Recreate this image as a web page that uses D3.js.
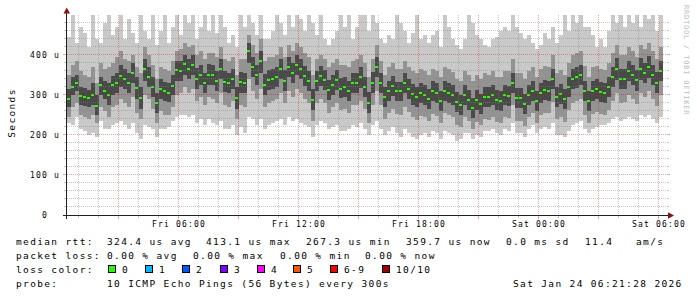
<!DOCTYPE html>
<html>
<head>
<meta charset="utf-8">
<script src="https://cdn.jsdelivr.net/npm/d3@7"></script>
<style>
  html, body { margin: 0; padding: 0; background: #fff; }
  svg { display: block; }
  text { font-family: "DejaVu Sans Mono", monospace; white-space: pre; }
</style>
</head>
<body>
<script>
// smokeping style latency graph, one column every 12 minutes (values in us)
var startTime = new Date(2026, 0, 23, 0, 27);
var endTime = new Date(2026, 0, 24, 6, 27);
var stepMinutes = 12;

var rttMed = [290,320,331,298,294,292,300,273,324,311, 300,325,329,348,340,330,355,317,292,365,
  345,320,279,315,309,306,323,362,360,377, 365,376,340,350,329,350,350,336,365,333,
  329,340,292,332,330,409,370,351,385,326, 337,340,345,365,336,369,354,375,365,348,
  336,288,335,347,337,312,325,337,316,319, 310,330,330,344,320,281,330,370,330,295,
  310,322,309,309,329,315,302,295,305,301, 290,309,304,286,310,306,300,282,275,300,
  288,268,288,278,296,294,300,288,285,300, 298,330,292,292,278,300,311,285,305,312,
  310,340,296,302,290,320,340,344,350,310, 285,310,315,308,306,320,345,365,340,340,
  360,350,337,365,355,370,350,331,360];
var rttMax = [445,500,430,470,455,420,500,440,430,480, 500,450,470,500,440,490,455,430,500,460,
  440,500,425,460,500,430,470,500,450,500, 480,500,440,470,500,460,500,455,500,470,
  430,450,420,500,470,500,480,450,500,440, 440,460,500,480,450,500,470,500,490,460,
  500,480,450,500,440,425,440,460,500,470, 500,440,470,500,500,460,500,480,440,430,
  450,440,500,480,460,430,455,500,440,450, 430,450,460,420,500,470,440,425,415,440,
  500,480,450,440,425,420,440,445,460,470, 460,500,470,455,440,450,430,415,425,455,
  440,470,430,450,500,460,500,480,500,470, 470,450,420,440,420,460,500,480,500,470,
  500,480,500,470,500,490,500,460,500];
var rttHi2 = [350,375,385,360,350,345,370,330,380,365, 370,380,395,410,390,385,400,370,355,420,
  400,375,340,370,365,360,385,410,415,430, 420,425,400,410,390,405,405,395,420,390,
  385,395,350,390,390,450,425,405,440,385, 395,395,400,420,395,425,410,430,420,405,
  395,350,390,400,390,370,380,390,375,375, 370,385,390,400,380,345,390,425,385,350,
  370,380,365,365,385,370,360,355,365,360, 350,365,360,345,370,365,358,340,335,360,
  350,335,350,340,355,350,360,345,345,360, 360,390,355,355,340,360,370,345,365,372,
  370,400,355,362,350,380,400,405,410,372, 345,370,372,365,362,380,405,425,400,400,
  420,410,395,425,415,430,410,390,420];
var rttHi4 = [315,345,350,320,318,312,330,300,345,335, 330,348,355,375,365,355,380,345,320,390,
  370,345,305,340,332,330,350,385,385,400, 390,400,368,375,355,378,375,360,390,360,
  355,365,320,358,355,430,395,375,410,352, 362,365,370,390,362,395,380,400,390,372,
  360,315,360,372,362,338,350,362,342,345, 335,355,355,370,345,308,358,395,355,320,
  335,348,333,333,355,340,328,320,330,326, 315,334,329,311,336,331,325,307,300,325,
  313,293,313,303,321,319,325,313,310,325, 323,356,317,317,303,325,336,310,330,337,
  335,366,321,327,315,346,366,370,376,336, 310,336,340,333,331,346,371,392,366,366,
  386,376,363,392,381,397,376,357,386];
var rttLo4 = [270,300,310,275,272,270,275,250,300,290, 275,300,305,320,315,305,330,290,265,335,
  320,295,255,290,285,282,300,335,335,350, 340,350,315,325,305,325,325,310,340,308,
  305,315,265,305,305,380,345,325,355,300, 312,315,320,340,310,345,330,350,340,322,
  310,262,310,322,312,288,300,312,292,295, 285,305,305,318,295,255,305,345,305,270,
  285,298,284,284,304,290,276,270,280,276, 265,284,279,261,285,281,275,257,250,275,
  263,243,263,253,271,269,275,263,260,275, 273,305,267,267,253,275,286,260,280,287,
  285,314,271,277,265,294,314,318,324,284, 260,284,290,283,281,294,319,338,314,314,
  334,324,311,338,329,343,324,305,334];
var rttLo2 = [245,270,280,250,245,240,250,230,270,260, 245,270,275,290,280,270,295,255,240,300,
  290,265,230,260,250,250,270,300,305,320, 305,315,285,295,275,295,290,280,305,275,
  270,285,240,275,270,340,310,290,315,270, 280,285,290,305,280,310,295,315,305,290,
  280,235,280,290,280,255,270,280,262,265, 255,275,275,285,265,230,275,310,275,240,
  255,265,252,250,270,258,245,238,248,245, 235,252,248,230,255,250,245,225,220,245,
  235,215,232,225,240,238,245,232,230,245, 242,275,236,236,222,245,255,230,250,255,
  255,282,240,245,232,262,280,285,290,250, 230,252,258,252,250,262,285,305,280,282,
  300,290,278,305,295,310,290,272,300];
var rttMin = [230,225,245,215,210,200,205,195,235,215, 215,225,230,235,225,215,230,205,190,225,
  220,215,195,215,215,220,235,245,250,250, 245,250,230,240,225,240,230,225,235,215,
  215,225,200,220,205,245,240,225,240,215, 225,230,235,240,225,245,235,240,230,225,
  220,195,225,235,230,215,220,225,210,210, 215,225,220,230,215,200,225,235,215,200,
  210,220,205,195,215,205,195,190,200,205, 195,210,205,190,210,205,200,185,190,205,
  205,190,200,195,210,210,215,205,200,215, 210,230,205,205,195,215,225,205,215,220,
  215,230,200,200,195,210,225,230,235,215, 205,215,220,225,225,230,240,245,235,240,
  245,240,235,250,245,250,240,230,245];

var yTickValues = [0, 100, 200, 300, 400];
var yTickLabels = ["0  ", "100 u", "200 u", "300 u", "400 u"];

var lossLabels = ["0", "1", "2", "3", "4", "5", "6-9", "10/10"];
var lossColors = ["#26ff00", "#00b8ff", "#0059ff", "#7e00ff", "#ff00fe", "#ff5500", "#ff0000", "#a10000"];
var lossBoxX = [108, 145, 182, 220, 257, 293, 330, 382];

var rttStats = ["324.4 us avg", "413.1 us max", "267.3 us min", "359.7 us now", "0.0 ms sd", "11.4", "am/s"];
var rttStatsX = [107, 206, 306, 406, 506, 585, 636];
var lossStats = ["0.00 % avg", "0.00 % max", "0.00 % min", "0.00 % now"];
var lossStatsX = [107, 193, 280, 365];

window.onload = function () {
  var w = 697, h = 297;
  var svg = d3.select("body").append("svg")
    .attr("width", w)
    .attr("height", h);

  var x = d3.scaleTime().domain([startTime, endTime]).range([67, 667]);
  var y = d3.scaleLinear().domain([0, 500]).range([215, 15]).clamp(true);

  var times = rttMed.map(function (d, i) { return d3.timeMinute.offset(startTime, i * stepMinutes); });
  function colX(i) { return x(times[i]); }
  function colW(i) { return x(d3.timeMinute.offset(times[i], stepMinutes)) - x(times[i]); }

  // smoke: outer, middle and inner ping spread
  var layers = [
    { lo: rttMin, hi: rttMax, color: "#c9c9c9" },
    { lo: rttLo2, hi: rttHi2, color: "#939393" },
    { lo: rttLo4, hi: rttHi4, color: "#4a4a4a" }
  ];
  layers.forEach(function (layer) {
    svg.append("g").attr("shape-rendering", "crispEdges")
      .selectAll("rect")
      .data(rttMed)
      .enter().append("rect")
      .attr("x", function (d, i) { return colX(i); })
      .attr("width", function (d, i) { return colW(i); })
      .attr("y", function (d, i) { return y(layer.hi[i]); })
      .attr("height", function (d, i) { return y(layer.lo[i]) - y(layer.hi[i]); })
      .attr("fill", layer.color);
  });

  // median marks
  svg.append("g").attr("shape-rendering", "crispEdges")
    .selectAll("rect")
    .data(rttMed)
    .enter().append("rect")
    .attr("x", function (d, i) { return colX(i); })
    .attr("width", function (d, i) { return colW(i) - 1; })
    .attr("y", function (d) { return Math.round(y(d)) - 1; })
    .attr("height", 2)
    .attr("fill", lossColors[0]);

  // grid on top, like rrdtool
  var minorCol = "rgba(130,130,130,0.45)", majorCol = "rgba(200,0,0,0.35)";
  var grid = svg.append("g").attr("shape-rendering", "crispEdges");
  var hours = d3.timeHour.range(d3.timeHour.ceil(startTime), endTime);
  hours.forEach(function (t) {
    var major = t.getHours() % 3 === 0;
    var gx = x(t) + 0.5;
    grid.append("line")
      .attr("x1", gx).attr("x2", gx).attr("y1", 15).attr("y2", 215)
      .attr("stroke", major ? majorCol : minorCol)
      .attr("stroke-dasharray", "1,1");
    grid.append("line")
      .attr("x1", gx).attr("x2", gx).attr("y1", 215).attr("y2", major ? 219 : 218)
      .attr("stroke", major ? majorCol : minorCol);
  });
  d3.range(20, 500, 20).forEach(function (v) {
    var major = v % 100 === 0;
    var gy = y(v) - 0.5;
    grid.append("line")
      .attr("x1", 67).attr("x2", 667).attr("y1", gy).attr("y2", gy)
      .attr("stroke", major ? majorCol : minorCol)
      .attr("stroke-dasharray", "1,1");
    grid.append("line")
      .attr("x1", major ? 63 : 64).attr("x2", 67).attr("y1", gy).attr("y2", gy)
      .attr("stroke", major ? majorCol : minorCol);
    grid.append("line")
      .attr("x1", 667).attr("x2", major ? 670 : 669).attr("y1", gy).attr("y2", gy)
      .attr("stroke", major ? majorCol : minorCol);
  });

  // axes
  svg.append("line")
    .attr("x1", 63).attr("x2", 669).attr("y1", 215.5).attr("y2", 215.5)
    .attr("stroke", "#202020").attr("shape-rendering", "crispEdges");
  svg.append("line")
    .attr("x1", 66.5).attr("x2", 66.5).attr("y1", 11).attr("y2", 219)
    .attr("stroke", "#202020").attr("shape-rendering", "crispEdges");
  svg.append("path").attr("d", "M63.5,13.5L70,13.5L66.75,7.5Z").attr("fill", "#8b1010");
  svg.append("path").attr("d", "M668,212.25L668,218.75L674,215.5Z").attr("fill", "#8b1010");

  // y tick labels
  svg.append("g").selectAll("text")
    .data(yTickValues)
    .enter().append("text")
    .attr("x", 60)
    .attr("y", function (d) { return y(d) + 2.5; })
    .attr("text-anchor", "end")
    .attr("font-size", 8)
    .attr("letter-spacing", 1.18)
    .text(function (d, i) { return yTickLabels[i]; });

  // x tick labels
  var fmt = d3.timeFormat("%a %H:%M");
  svg.append("g").selectAll("text")
    .data(d3.timeHour.every(6).range(startTime, endTime))
    .enter().append("text")
    .attr("x", function (d) { return x(d) + 1; })
    .attr("y", 227)
    .attr("text-anchor", "middle")
    .attr("font-size", 8)
    .attr("letter-spacing", 1.18)
    .text(fmt);

  svg.append("text")
    .attr("transform", "translate(15,113) rotate(-90)")
    .attr("text-anchor", "middle")
    .attr("font-size", 9.5)
    .attr("letter-spacing", 1.35)
    .text("Seconds");

  svg.append("text")
    .attr("transform", "translate(684,5) rotate(90)")
    .attr("font-size", 7)
    .attr("letter-spacing", 0.8)
    .attr("fill", "#bdbdbd")
    .text("RRDTOOL / TOBI OETIKER");

  // legend
  var legend = svg.append("g").attr("font-size", 9.5).attr("letter-spacing", 1.35);
  function put(str, lx, ly) {
    legend.append("text").attr("x", lx).attr("y", ly).text(str);
  }
  put("median rtt:", 16, 245);
  rttStats.forEach(function (s, i) { put(s, rttStatsX[i], 245); });
  put("packet loss:", 16, 259);
  lossStats.forEach(function (s, i) { put(s, lossStatsX[i], 259); });
  put("loss color:", 16, 273);
  lossLabels.forEach(function (s, i) {
    legend.append("rect")
      .attr("x", lossBoxX[i] + 0.5).attr("y", 265.5)
      .attr("width", 7).attr("height", 7)
      .attr("fill", lossColors[i])
      .attr("stroke", "#000")
      .attr("shape-rendering", "crispEdges");
    put(s, lossBoxX[i] + 14, 273);
  });
  put("probe:", 16, 287);
  put("10 ICMP Echo Pings (56 Bytes) every 300s", 107, 287);
  put("Sat Jan 24 06:21:28 2026", 513, 287);
};
</script>
</body>
</html>
